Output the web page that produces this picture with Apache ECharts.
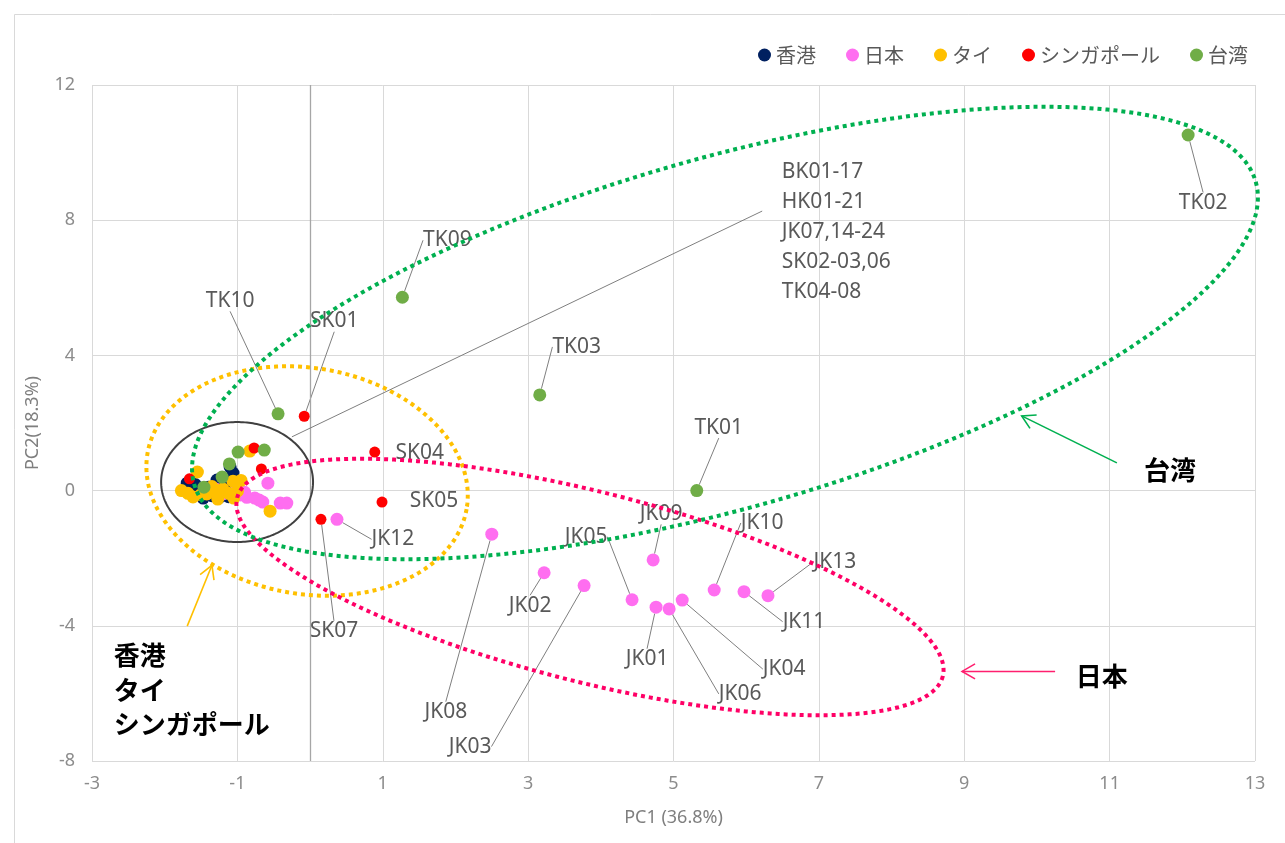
<!DOCTYPE html>
<html>
<head>
<meta charset="utf-8">
<script src="https://cdn.jsdelivr.net/npm/echarts@6/dist/echarts.min.js"></script>
<style>
  html, body { margin: 0; padding: 0; background: #fff; }
  #main { width: 1285px; height: 843px; }
</style>
</head>
<body>
<div id="main"></div>
<script>
// ---- PCA scores (PC1, PC2) per region ----
const regionNames = ['香港', '日本', 'タイ', 'シンガポール', '台湾'];
const regionColors = ['#002060', '#FF6EF0', '#FFC000', '#FF0000', '#70AD47'];

const hongKongNames = ['HK01','HK02','HK03','HK04','HK05','HK06','HK07','HK08','HK09','HK10','HK11',
  'HK12','HK13','HK14','HK15','HK16','HK17','HK18','HK19','HK20','HK21'];
const hongKongScores = [[-1.69,0.22],[-1.10,0.70],[-1.05,-0.07],[-1.47,-0.22],[-1.28,0.31],[-1.06,0.52],
  [-1.55,0.05],[-1.40,0.10],[-1.35,-0.15],[-1.20,0.00],[-1.15,0.00],[-1.62,-0.05],[-1.30,0.10],
  [-1.00,0.15],[-1.45,0.05],[-1.25,-0.20],[-1.12,-0.18],[-1.58,0.18],[-1.38,-0.05],[-0.98,-0.10],[-1.22,0.15]];

const japanNames = ['JK01','JK02','JK03','JK04','JK05','JK06','JK07','JK08','JK09','JK10','JK11','JK12',
  'JK13','JK14','JK15','JK16','JK17','JK18','JK19','JK20','JK21','JK22','JK23','JK24'];
const japanScores = [[4.76,-3.45],[3.22,-2.43],[3.77,-2.81],[5.12,-3.24],[4.43,-3.23],[4.94,-3.50],
  [-0.58,0.22],[2.50,-1.29],[4.72,-2.05],[5.56,-2.94],[5.97,-2.99],[0.37,-0.85],[6.30,-3.11],
  [-0.76,-0.22],[-0.65,-0.34],[-0.41,-0.37],[-0.32,-0.37],[-0.87,-0.20],[-0.96,-0.13],[-1.20,-0.10],
  [-1.00,0.10],[-0.90,-0.05],[-1.30,0.05],[-0.70,-0.28]];

const thaiNames = ['BK01','BK02','BK03','BK04','BK05','BK06','BK07','BK08','BK09','BK10','BK11','BK12',
  'BK13','BK14','BK15','BK16','BK17'];
const thaiScores = [[-0.83,1.17],[-1.55,0.55],[-1.77,0.00],[-1.61,-0.19],[-1.27,-0.25],[-1.05,-0.22],
  [-1.06,0.28],[-0.55,-0.61],[-1.42,-0.10],[-1.20,0.05],[-1.00,-0.02],[-1.35,0.12],[-1.50,-0.12],
  [-1.12,-0.08],[-0.95,0.30],[-1.68,-0.08],[-1.30,-0.02]];

const singaporeNames = ['SK01','SK02','SK03','SK04','SK05','SK06','SK07'];
const singaporeScores = [[-0.08,2.20],[-0.77,1.26],[-0.67,0.64],[0.89,1.14],[0.99,-0.34],[-1.66,0.35],[0.15,-0.85]];

const taiwanNames = ['TK01','TK02','TK03','TK04','TK05','TK06','TK07','TK08','TK09','TK10'];
const taiwanScores = [[5.32,0.00],[12.08,10.52],[3.16,2.83],[-0.99,1.14],[-0.63,1.20],[-1.11,0.79],
  [-1.21,0.40],[-1.46,0.10],[1.27,5.72],[-0.44,2.27]];

// axis ticks
const xTicks = { min: -3, max: 13, step: 2 };
const yTicks = { min: -8, max: 12, step: 4 };
const xTitle = 'PC1 (36.8%)';
const yTitle = 'PC2(18.3%)';

// sample label placement: [dx, dy, leader line]
const labelPlacement = {
  TK02: [15, 68, true], TK09: [45, -57, true], TK03: [37, -48, true], TK01: [22, -63, true],
  TK10: [-48, -113, true], SK01: [30, -95, true], SK04: [45, 1, false], SK05: [52, -1, false],
  SK07: [13, 112, true], JK12: [56, 20, true], JK08: [-46, 178, true], JK03: [-114, 161, true],
  JK02: [-14, 33, true], JK05: [-46, -63, true], JK09: [8, -46, true], JK01: [-9, 52, true],
  JK06: [71, 85, true], JK04: [102, 69, true], JK10: [48, -67, true], JK11: [60, 30, true],
  JK13: [67, -34, true]
};

// group outlines: [centerPC1, centerPC2, semi-major, semi-minor (PC1 units), tilt deg]
const groupEllipses = [
  [-1.004, 0.254, 1.045, 0.825, 0],
  [-0.041, 0.284, 2.228, 1.554, 10],
  [3.851, -2.852, 5.007, 1.307, 14.2],
  [5.708, 4.663, 7.593, 2.407, -15.9]
];
const ellipseStyles = [
  { color: '#404040', width: 2, dash: null },
  { color: '#FFC000', width: 4, dash: [4, 4] },
  { color: '#FF0066', width: 4, dash: [4, 4] },
  { color: '#00B050', width: 4, dash: [4, 4] }
];

// callouts
const noteLines = ['BK01-17', 'HK01-21', 'JK07,14-24', 'SK02-03,06', 'TK04-08'];
const noteLeader = [[-0.25, 1.59], [6.22, 8.27]];
const noteAnchor = [6.49, 9.87];
const groupCallouts = [
  { text: '台湾', at: [11.83, 0.61], align: 'center', tail: [11.10, 0.82], tip: [9.79, 2.21], color: '#00B050' },
  { text: '日本', at: [10.89, -5.50], align: 'center', tail: [10.25, -5.35], tip: [8.97, -5.35], color: '#FF1F6E' },
  { text: '香港\nタイ\nシンガポール', at: [-2.70, -4.36], align: 'left', tail: [-1.69, -4.01], tip: [-1.35, -2.21], color: '#FFC000' }
];

const scoreSets = [hongKongScores, japanScores, thaiScores, singaporeScores, taiwanScores];
const nameSets = [hongKongNames, japanNames, thaiNames, singaporeNames, taiwanNames];
const markerSizes = [13, 13, 13, 11, 13];

const labelFont = '"Noto Sans", "Open Sans", sans-serif';

function buildScatter(i) {
  const names = nameSets[i];
  const data = scoreSets[i].map((v, k) => {
    const place = labelPlacement[names[k]];
    return {
      name: names[k],
      value: v,
      label: { show: !!place },
      labelLine: { show: !!(place && place[2]) }
    };
  });
  const s = {
    name: regionNames[i],
    type: 'scatter',
    data: data,
    symbol: 'circle',
    symbolSize: markerSizes[i],
    itemStyle: { color: regionColors[i], opacity: 1 },
    z: 3 + i * 0.01,
    label: {
      show: false,
      position: 'inside',
      formatter: '{b}',
      color: '#595959',
      fontSize: 21,
      fontFamily: labelFont
    },
    labelLine: {
      show: false,
      lineStyle: { color: '#7F7F7F', width: 1 }
    },
    labelLayout: function (p) {
      const place = labelPlacement[names[p.dataIndex]];
      if (!place) return {};
      return { dx: place[0], dy: place[1] };
    },
    emphasis: { disabled: true }
  };
  if (i === 0) {
    s.markLine = {
      silent: true,
      symbol: ['none', 'none'],
      label: { show: false },
      lineStyle: { color: '#A6A6A6', width: 1.3, type: 'solid' },
      data: [{ xAxis: 0 }]
    };
  }
  return s;
}

function renderEllipse(params, api) {
  const c = api.coord([api.value(0), api.value(1)]);
  const unit = api.size([1, 0])[0];
  const a = api.value(2) * unit, b = api.value(3) * unit;
  const th = api.value(4) * Math.PI / 180;
  const pts = [];
  const n = 240;
  for (let k = 0; k < n; k++) {
    const t = k / n * Math.PI * 2;
    pts.push([
      c[0] + a * Math.cos(t) * Math.cos(th) - b * Math.sin(t) * Math.sin(th),
      c[1] + a * Math.cos(t) * Math.sin(th) + b * Math.sin(t) * Math.cos(th)
    ]);
  }
  const st = ellipseStyles[params.dataIndex];
  return {
    type: 'polygon',
    shape: { points: pts },
    style: { fill: 'none', stroke: st.color, lineWidth: st.width, lineDash: st.dash }
  };
}

function renderCallouts(params, api) {
  const children = [];
  const a = api.coord(noteLeader[0]), b = api.coord(noteLeader[1]);
  children.push({ type: 'line', shape: { x1: a[0], y1: a[1], x2: b[0], y2: b[1] },
    style: { stroke: '#7F7F7F', lineWidth: 1 } });
  const np = api.coord(noteAnchor);
  children.push({ type: 'text', x: np[0], y: np[1],
    style: { text: noteLines.join('\n'), fill: '#595959', font: '21px ' + labelFont,
      lineHeight: 30, align: 'left', verticalAlign: 'top' } });
  groupCallouts.forEach(g => {
    const tail = api.coord(g.tail), tip = api.coord(g.tip);
    const ang = Math.atan2(tip[1] - tail[1], tip[0] - tail[0]);
    const len = 15, spread = Math.PI / 6;
    children.push({ type: 'line', shape: { x1: tail[0], y1: tail[1], x2: tip[0], y2: tip[1] },
      style: { stroke: g.color, lineWidth: 1.6 } });
    children.push({ type: 'polyline', shape: { points: [
        [tip[0] - len * Math.cos(ang - spread), tip[1] - len * Math.sin(ang - spread)],
        tip,
        [tip[0] - len * Math.cos(ang + spread), tip[1] - len * Math.sin(ang + spread)]
      ] },
      style: { stroke: g.color, lineWidth: 1.6, fill: 'none' } });
    const tp = api.coord(g.at);
    const multi = g.text.indexOf('\n') >= 0;
    children.push({ type: 'text', x: tp[0], y: tp[1],
      style: { text: g.text, fill: '#000', font: 'bold 26px "Noto Sans CJK JP"',
        lineHeight: 34.5, align: g.align, verticalAlign: multi ? 'top' : 'middle' } });
  });
  return { type: 'group', children: children };
}

const chart = echarts.init(document.getElementById('main'));
const series = regionNames.map((_, i) => buildScatter(i));
series.push({
  type: 'custom',
  silent: true,
  clip: false,
  z: 10,
  renderItem: renderEllipse,
  data: groupEllipses
});
series.push({
  type: 'custom',
  silent: true,
  clip: false,
  z: 11,
  renderItem: renderCallouts,
  data: [[0, 0]]
});

chart.setOption({
  animation: false,
  backgroundColor: '#ffffff',
  graphic: [{
    type: 'rect', left: 12, top: 12, z: -10,
    shape: { width: 1300, height: 860 },
    style: { fill: 'none', stroke: '#D9D9D9', lineWidth: 1 }
  }],
  legend: {
    data: regionNames,
    right: 32,
    top: 40,
    itemWidth: 13,
    itemHeight: 13,
    itemGap: 30,
    icon: 'circle',
    textStyle: { color: '#595959', fontSize: 20, fontFamily: '"Noto Sans CJK JP", sans-serif' }
  },
  grid: { left: 92, right: 30, top: 85, bottom: 82, containLabel: false },
  xAxis: {
    type: 'value',
    min: xTicks.min, max: xTicks.max, interval: xTicks.step,
    name: xTitle, nameLocation: 'middle', nameGap: 48,
    nameTextStyle: { color: '#7F7F7F', fontSize: 18, fontFamily: labelFont },
    axisLine: { show: false }, axisTick: { show: false },
    axisLabel: { color: '#8C8C8C', fontSize: 18, margin: 14, fontFamily: labelFont },
    splitLine: { show: true, lineStyle: { color: '#D9D9D9', width: 1 } }
  },
  yAxis: {
    type: 'value',
    min: yTicks.min, max: yTicks.max, interval: yTicks.step,
    name: yTitle, nameLocation: 'middle', nameGap: 50, nameRotate: 90,
    nameTextStyle: { color: '#7F7F7F', fontSize: 18, fontFamily: labelFont },
    axisLine: { show: false }, axisTick: { show: false },
    axisLabel: { color: '#8C8C8C', fontSize: 18, margin: 17, fontFamily: labelFont },
    splitLine: { show: true, lineStyle: { color: '#D9D9D9', width: 1 } }
  },
  series: series
});
</script>
</body>
</html>
